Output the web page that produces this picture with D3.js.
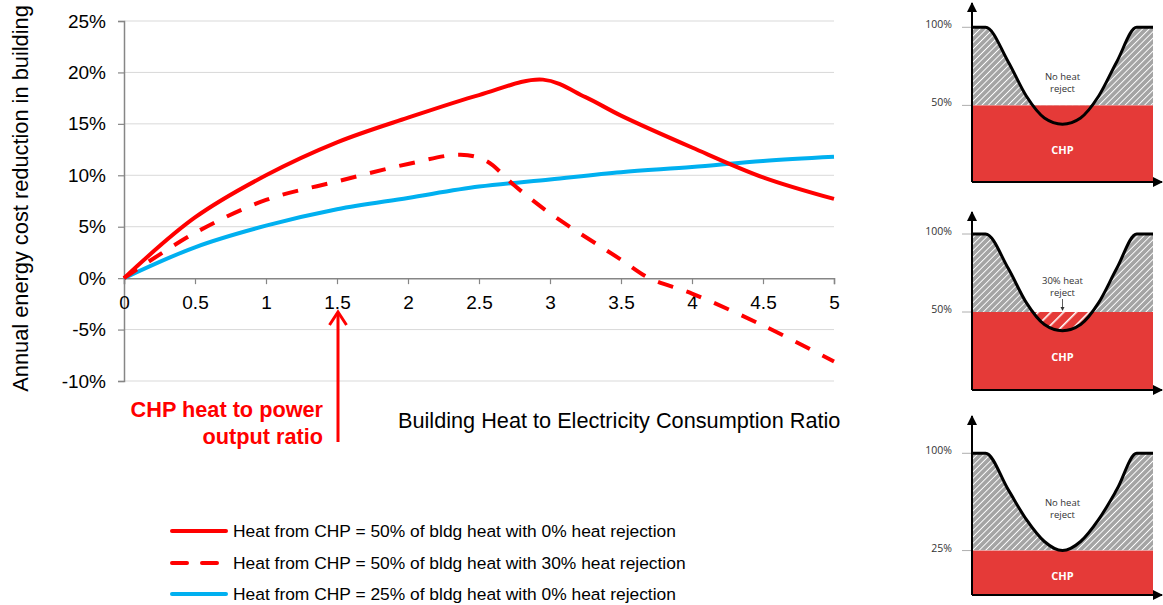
<!DOCTYPE html>
<html>
<head>
<meta charset="utf-8">
<script src="https://cdn.jsdelivr.net/npm/d3@7"></script>
<style>
  body { margin: 0; background: #fff; }
  svg { display: block; }
  .main text { font-family: Arial, "Liberation Sans", sans-serif; }
  .diag text { font-family: "Open Sans", "Noto Sans", sans-serif; }
</style>
</head>
<body>
<svg id="chart" width="1163" height="605"></svg>
<script>
// ---- Main chart data: annual energy cost reduction (%) vs building heat/electricity ratio
const ratioTicks = [0, 0.5, 1, 1.5, 2, 2.5, 3, 3.5, 4, 4.5, 5];
const pctTicks = [-10, -5, 0, 5, 10, 15, 20, 25];

const chp50NoRejectX = [0, 0.5, 1, 1.5, 2, 2.5, 2.95, 3.25, 3.5, 4, 4.5, 5];
const chp50NoRejectY = [0, 5.9, 10, 13.2, 15.6, 17.8, 19.3, 17.6, 15.8, 12.7, 9.8, 7.7];

const chp50Reject30X = [0, 0.5, 1, 1.5, 2, 2.37, 2.55, 2.75, 3, 3.5, 3.7, 4, 4.5, 5];
const chp50Reject30Y = [0, 4.4, 7.6, 9.4, 11.1, 12.0, 11.4, 9.0, 6.3, 1.8, 0, -1.5, -4.6, -8.1];

const chp25NoRejectX = [0, 0.5, 1, 1.5, 2, 2.5, 3, 3.5, 4, 4.5, 5];
const chp25NoRejectY = [0, 3.0, 5.1, 6.7, 7.8, 8.9, 9.6, 10.3, 10.8, 11.4, 11.8];

const seriesLabels = [
  "Heat from CHP = 50% of bldg heat with 0% heat rejection",
  "Heat from CHP = 50% of bldg heat with 30% heat rejection",
  "Heat from CHP = 25% of bldg heat with 0% heat rejection"
];

// ---- Side diagrams: building heat demand profile over a period (% of peak)
const profileT = [0, 0.075, 0.2, 0.3, 0.4, 0.5, 0.6, 0.7, 0.8, 0.91, 1];
const demandMid = [100, 100, 78, 56, 42, 38, 42, 56, 78, 100, 100];
const demandLow = [100, 100, 72, 49, 32, 25, 32, 49, 72, 100, 100];
const chpLevels = [50, 50, 25];
const rejectShares = [0, 30, 0];
const panelNotes = [["No heat", "reject"], ["30% heat", "reject"], ["No heat", "reject"]];

const RED = "#ff0000", BLUE = "#00b0f0";

const svg = d3.select("#chart");

// ================= main chart =================
const main = svg.append("g").attr("class", "main");
const x = d3.scaleLinear().domain([0, 5]).range([124, 834]);
const y = d3.scaleLinear().domain([-10, 25]).range([381, 21]);

// horizontal gridlines
main.append("g").selectAll("line")
  .data(pctTicks.filter(d => d !== 0))
  .join("line")
  .attr("x1", x(0)).attr("x2", x(5))
  .attr("y1", d => y(d)).attr("y2", d => y(d))
  .attr("stroke", "#d9d9d9").attr("stroke-width", 1);

// y axis
const yAxis = main.append("g")
  .attr("transform", `translate(${x(0)},0)`)
  .call(d3.axisLeft(y).tickValues(pctTicks).tickFormat(d => d + "%").tickSize(6).tickPadding(12));
yAxis.select(".domain").attr("stroke", "#868686").attr("stroke-width", 1.5);
yAxis.selectAll(".tick line").attr("stroke", "#868686").attr("stroke-width", 1.2);
yAxis.selectAll(".tick text").attr("font-size", 19).attr("fill", "#000")
  .attr("font-family", "Arial, 'Liberation Sans', sans-serif");

// x axis on the zero line
const xAxis = main.append("g")
  .attr("transform", `translate(0,${y(0)})`)
  .call(d3.axisBottom(x).tickValues(ratioTicks).tickFormat(d3.format("")).tickSize(6).tickPadding(11));
xAxis.select(".domain").attr("stroke", "#868686").attr("stroke-width", 1.5);
xAxis.selectAll(".tick line").attr("stroke", "#868686").attr("stroke-width", 1.2);
xAxis.selectAll(".tick text").attr("font-size", 19).attr("fill", "#000")
  .attr("font-family", "Arial, 'Liberation Sans', sans-serif");

// series lines
const line = d3.line().x(d => x(d[0])).y(d => y(d[1])).curve(d3.curveCatmullRom.alpha(0.5));
const zip = (a, b) => a.map((v, i) => [v, b[i]]);

main.append("path").datum(zip(chp25NoRejectX, chp25NoRejectY))
  .attr("d", line).attr("fill", "none").attr("stroke", BLUE).attr("stroke-width", 4);
main.append("path").datum(zip(chp50Reject30X, chp50Reject30Y))
  .attr("d", line).attr("fill", "none").attr("stroke", RED).attr("stroke-width", 4)
  .attr("stroke-dasharray", "16,14");
main.append("path").datum(zip(chp50NoRejectX, chp50NoRejectY))
  .attr("d", line).attr("fill", "none").attr("stroke", RED).attr("stroke-width", 4);

// axis titles
main.append("text")
  .attr("transform", `translate(28,${198.5}) rotate(-90)`)
  .attr("text-anchor", "middle").attr("font-size", 21.8).attr("fill", "#000")
  .text("Annual energy cost reduction in building");
main.append("text")
  .attr("x", 398).attr("y", 428)
  .attr("font-size", 21.7).attr("fill", "#000")
  .text("Building Heat to Electricity Consumption Ratio");

// annotation: CHP heat to power output ratio = 1.5
main.append("text").attr("x", 323).attr("y", 417).attr("text-anchor", "end")
  .attr("font-size", 21.7).attr("font-weight", "bold").attr("fill", RED)
  .text("CHP heat to power");
main.append("text").attr("x", 323).attr("y", 444).attr("text-anchor", "end")
  .attr("font-size", 21.7).attr("font-weight", "bold").attr("fill", RED)
  .text("output ratio");
const ax = x(1.5) + 1;
main.append("line").attr("x1", ax).attr("x2", ax).attr("y1", 442).attr("y2", 313)
  .attr("stroke", RED).attr("stroke-width", 3);
main.append("path").attr("d", `M${ax - 8.5},${325} L${ax},${312} L${ax + 8.5},${325}`)
  .attr("fill", "none").attr("stroke", RED).attr("stroke-width", 3);

// legend
const legendStyles = [
  { color: RED, dash: null },
  { color: RED, dash: "15,15" },
  { color: BLUE, dash: null }
];
const legendY = [531, 563, 594];
const lg = main.append("g");
seriesLabels.forEach((label, i) => {
  lg.append("line").attr("x1", 172).attr("x2", 226)
    .attr("y1", legendY[i]).attr("y2", legendY[i])
    .attr("stroke", legendStyles[i].color).attr("stroke-width", 4)
    .attr("stroke-linecap", "round")
    .attr("stroke-dasharray", legendStyles[i].dash);
  lg.append("text").attr("x", 233).attr("y", legendY[i] + 6)
    .attr("font-size", 17.4).attr("fill", "#000").text(label);
});

// ================= side diagrams =================
const defs = svg.append("defs");
const hatch = defs.append("pattern").attr("id", "hatchGray")
  .attr("patternUnits", "userSpaceOnUse").attr("width", 4.6).attr("height", 4.6)
  .attr("patternTransform", "rotate(45)");
hatch.append("rect").attr("width", 4.6).attr("height", 4.6).attr("fill", "#a4a4a4");
hatch.append("line").attr("x1", 0).attr("y1", 0).attr("x2", 0).attr("y2", 4.6)
  .attr("stroke", "#fff").attr("stroke-width", 1.9);

const hatchRed = defs.append("pattern").attr("id", "hatchWhite")
  .attr("patternUnits", "userSpaceOnUse").attr("width", 9).attr("height", 9)
  .attr("patternTransform", "rotate(45)");
hatchRed.append("line").attr("x1", 0).attr("y1", 0).attr("x2", 0).attr("y2", 9)
  .attr("stroke", "#fff").attr("stroke-width", 3.2);

const arrowHead = defs.append("marker").attr("id", "tri")
  .attr("viewBox", "0 0 10 10").attr("refX", 9).attr("refY", 5)
  .attr("markerWidth", 10).attr("markerHeight", 10).attr("markerUnits", "userSpaceOnUse")
  .attr("orient", "auto");
arrowHead.append("path").attr("d", "M0,0 L10,5 L0,10 Z").attr("fill", "#000");

const frames = [
  { tip: 3, zero: 183.5, top: 27.3, base: 182 },
  { tip: 212, zero: 390, top: 234, base: 390 },
  { tip: 416, zero: 583, top: 453.3, base: 595 }
];
const profiles = [demandMid, demandMid, demandLow];
const diag = svg.append("g").attr("class", "diag");
const px = d3.scaleLinear().domain([0, 1]).range([972, 1153]);

frames.forEach((f, i) => {
  const g = diag.append("g");
  const py = d3.scaleLinear().domain([0, 100]).range([f.zero, f.top]);
  const pts = profileT.map((t, k) => [t, profiles[i][k]]);
  const lvl = py(chpLevels[i]);

  // clip regions above / below the CHP level
  defs.append("clipPath").attr("id", `above${i}`)
    .append("rect").attr("x", px(0)).attr("y", f.top - 5).attr("width", px(1) - px(0)).attr("height", lvl - f.top + 5);
  defs.append("clipPath").attr("id", `below${i}`)
    .append("rect").attr("x", px(0)).attr("y", lvl).attr("width", px(1) - px(0)).attr("height", f.base - lvl);

  const band = d3.area().x(d => px(d[0])).y0(lvl).y1(d => py(d[1])).curve(d3.curveMonotoneX);

  // heat from boilers (hatched grey)
  g.append("path").datum(pts).attr("d", band)
    .attr("fill", "url(#hatchGray)").attr("clip-path", `url(#above${i})`);
  // CHP heat block
  g.append("rect").attr("x", px(0)).attr("y", lvl)
    .attr("width", px(1) - px(0)).attr("height", f.base - lvl).attr("fill", "#e53a38");
  // rejected CHP heat
  if (rejectShares[i] > 0) {
    g.append("path").datum(pts).attr("d", band)
      .attr("fill", "url(#hatchWhite)").attr("clip-path", `url(#below${i})`);
  }
  // level tick marks
  [[100, py(100)], [chpLevels[i], lvl]].forEach(([v, yy]) => {
    g.append("line").attr("x1", 962).attr("x2", px(0)).attr("y1", yy).attr("y2", yy)
      .attr("stroke", "#999").attr("stroke-width", 0.8);
    g.append("text").attr("x", 952).attr("y", yy + 1).attr("text-anchor", "end")
      .attr("font-size", 10.5).attr("fill", "#333").text(v + "%");
  });
  // demand curve
  g.append("path").datum(pts)
    .attr("d", d3.line().x(d => px(d[0])).y(d => py(d[1])).curve(d3.curveMonotoneX))
    .attr("fill", "none").attr("stroke", "#000").attr("stroke-width", 3);
  // axes with arrowheads
  g.append("line").attr("x1", px(0)).attr("x2", px(0)).attr("y1", f.base).attr("y2", f.tip)
    .attr("stroke", "#000").attr("stroke-width", 2).attr("marker-end", "url(#tri)");
  g.append("line").attr("x1", px(0)).attr("x2", 1162).attr("y1", f.base).attr("y2", f.base)
    .attr("stroke", "#000").attr("stroke-width", 2).attr("marker-end", "url(#tri)");
  // labels
  const cx = px(0.5);
  const noteY = rejectShares[i] > 0 ? lvl - 28 : f.top + 52.5;
  panelNotes[i].forEach((s, k) => {
    g.append("text").attr("x", cx).attr("y", noteY + k * 12).attr("text-anchor", "middle")
      .attr("font-size", 9.5).attr("fill", "#333").text(s);
  });
  if (rejectShares[i] > 0) {
    g.append("line").attr("x1", cx).attr("x2", cx).attr("y1", noteY + 15).attr("y2", lvl - 2)
      .attr("stroke", "#333").attr("stroke-width", 0.8);
    g.append("path").attr("d", `M${cx - 2},${lvl - 5} L${cx},${lvl - 1} L${cx + 2},${lvl - 5} Z`).attr("fill", "#333");
  }
  const chpY = (lvl + f.base) / 2 + 0.08 * (f.base - lvl);
  g.append("text").attr("x", cx).attr("y", chpY + 4).attr("text-anchor", "middle")
    .attr("font-size", 11).attr("font-weight", "bold").attr("fill", "#fff").text("CHP");
});
</script>
</body>
</html>
